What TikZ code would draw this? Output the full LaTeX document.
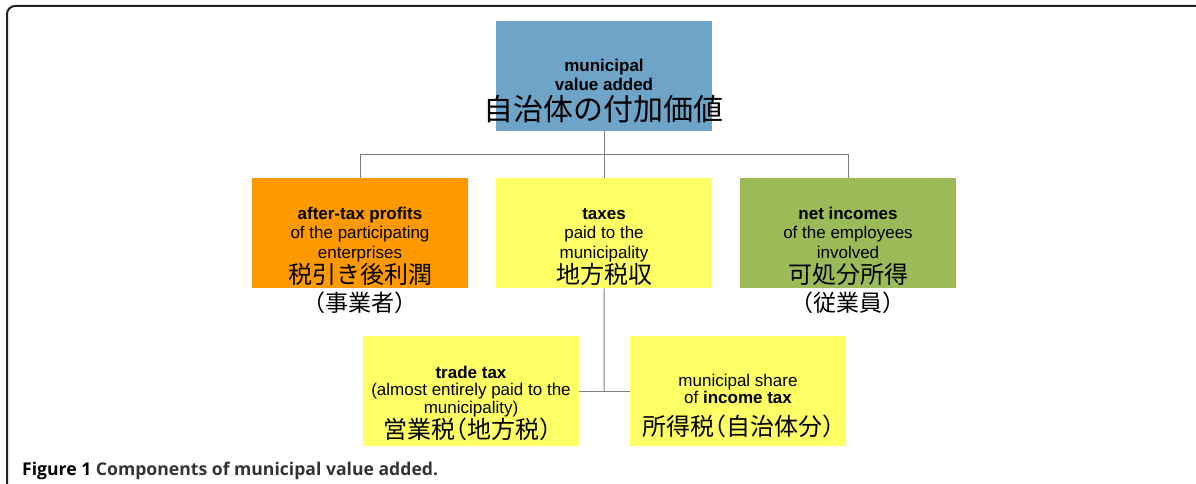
\documentclass[tikz,border=0pt]{standalone}
\usepackage{fontspec}
\setmainfont{Liberation Sans}
\newfontfamily\jp[RawFeature=+halt]{Noto Sans CJK JP}
\newfontfamily\capfont{Open Sans}
\definecolor{topblue}{HTML}{6EA4C7}
\definecolor{orangebox}{HTML}{FF9900}
\definecolor{yellowbox}{HTML}{FFFF66}
\definecolor{greenbox}{HTML}{9BBB59}
\definecolor{linegray}{HTML}{7F7F7F}
\definecolor{framecol}{HTML}{222222}
\definecolor{capgray}{HTML}{333333}
\begin{document}
\begin{tikzpicture}[x=1pt,y=-1pt,
  box/.style={draw=none, minimum width=216pt, minimum height=110pt, inner sep=0pt, anchor=north west},
  conn/.style={draw=linegray, line width=1pt},
  en/.style={font=\fontsize{17}{19.5}\selectfont, anchor=base, inner sep=0pt},
  enb/.style={font=\fontsize{17}{17.8}\selectfont, anchor=base, inner sep=0pt},
  jpbig/.style={font=\jp\fontsize{30}{30}\selectfont, anchor=base, inner sep=0pt},
  jpmid/.style={font=\jp\fontsize{24}{24}\selectfont, anchor=base, inner sep=0pt},
  jpsub/.style={font=\jp\fontsize{23}{23}\selectfont, anchor=base, inner sep=0pt}]
\useasboundingbox (0,0) rectangle (1196,484);
% frame
\draw[framecol, line width=2pt, rounded corners=8pt] (7,500) -- (7,6) -- (1210,6);
% boxes
\node[box, fill=topblue] (top) at (496,21) {};
\node[box, fill=orangebox] (profits) at (252,178) {};
\node[box, fill=yellowbox] (taxes) at (496,178) {};
\node[box, fill=greenbox] (incomes) at (740,178) {};
\node[box, fill=yellowbox] (trade) at (363,336) {};
\node[box, fill=yellowbox] (income) at (630,336) {};
% connectors
\coordinate (bus) at (604,154.5);
\draw[conn] (top.south) -- (taxes.north);
\draw[conn] (profits.north) |- (bus) -| (incomes.north);
\coordinate (tj) at (604,392);
\draw[conn] (taxes.south) -- (tj);
\draw[conn] (trade.east) -- (income.west);
% top text
\node[en] (t1) at (604,71.5) {\begin{tabular}[t]{@{}c@{}}\textbf{municipal}\\ \textbf{value added}\end{tabular}};
\node[jpbig] (t2) at (603,121) {自治体の付加価値};
% profits
\node[en] (p1) at (360,219) {\begin{tabular}[t]{@{}c@{}}\textbf{after-tax profits}\\ of the participating\\ enterprises\end{tabular}};
\node[jpmid] (p2) at (360,283) {税引き後利潤};
\node[jpsub] (p3) at (360,311) {（事業者）};
% taxes
\node[en] (x1) at (604,219) {\begin{tabular}[t]{@{}c@{}}\textbf{taxes}\\ paid to the\\ municipality\end{tabular}};
\node[jpmid] (x2) at (604,283) {地方税収};
% incomes
\node[en] (i1) at (848,219) {\begin{tabular}[t]{@{}c@{}}\textbf{net incomes}\\ of the employees\\ involved\end{tabular}};
\node[jpmid] (i2) at (848,283) {可処分所得};
\node[jpsub] (i3) at (848,311) {（従業員）};
% trade tax
\node[enb] (r1) at (471,378) {\begin{tabular}[t]{@{}c@{}}\textbf{trade tax}\\ (almost entirely paid to the\\ municipality)\end{tabular}};
\node[jpmid] (r2) at (467,438) {営業税（地方税）};
% income tax
\node[enb] (m1) at (738,386) {\begin{tabular}[t]{@{}c@{}}municipal share\\ of \textbf{income tax}\end{tabular}};
\node[jpmid] (m2) at (738,435) {所得税（自治体分）};
% caption
\node[anchor=base west, inner sep=0pt, font=\capfont\bfseries\fontsize{17.6}{19}\selectfont] (cap) at (22,475) {Figure 1 \textcolor{capgray}{Components of municipal value added.}};
\end{tikzpicture}
\end{document}
